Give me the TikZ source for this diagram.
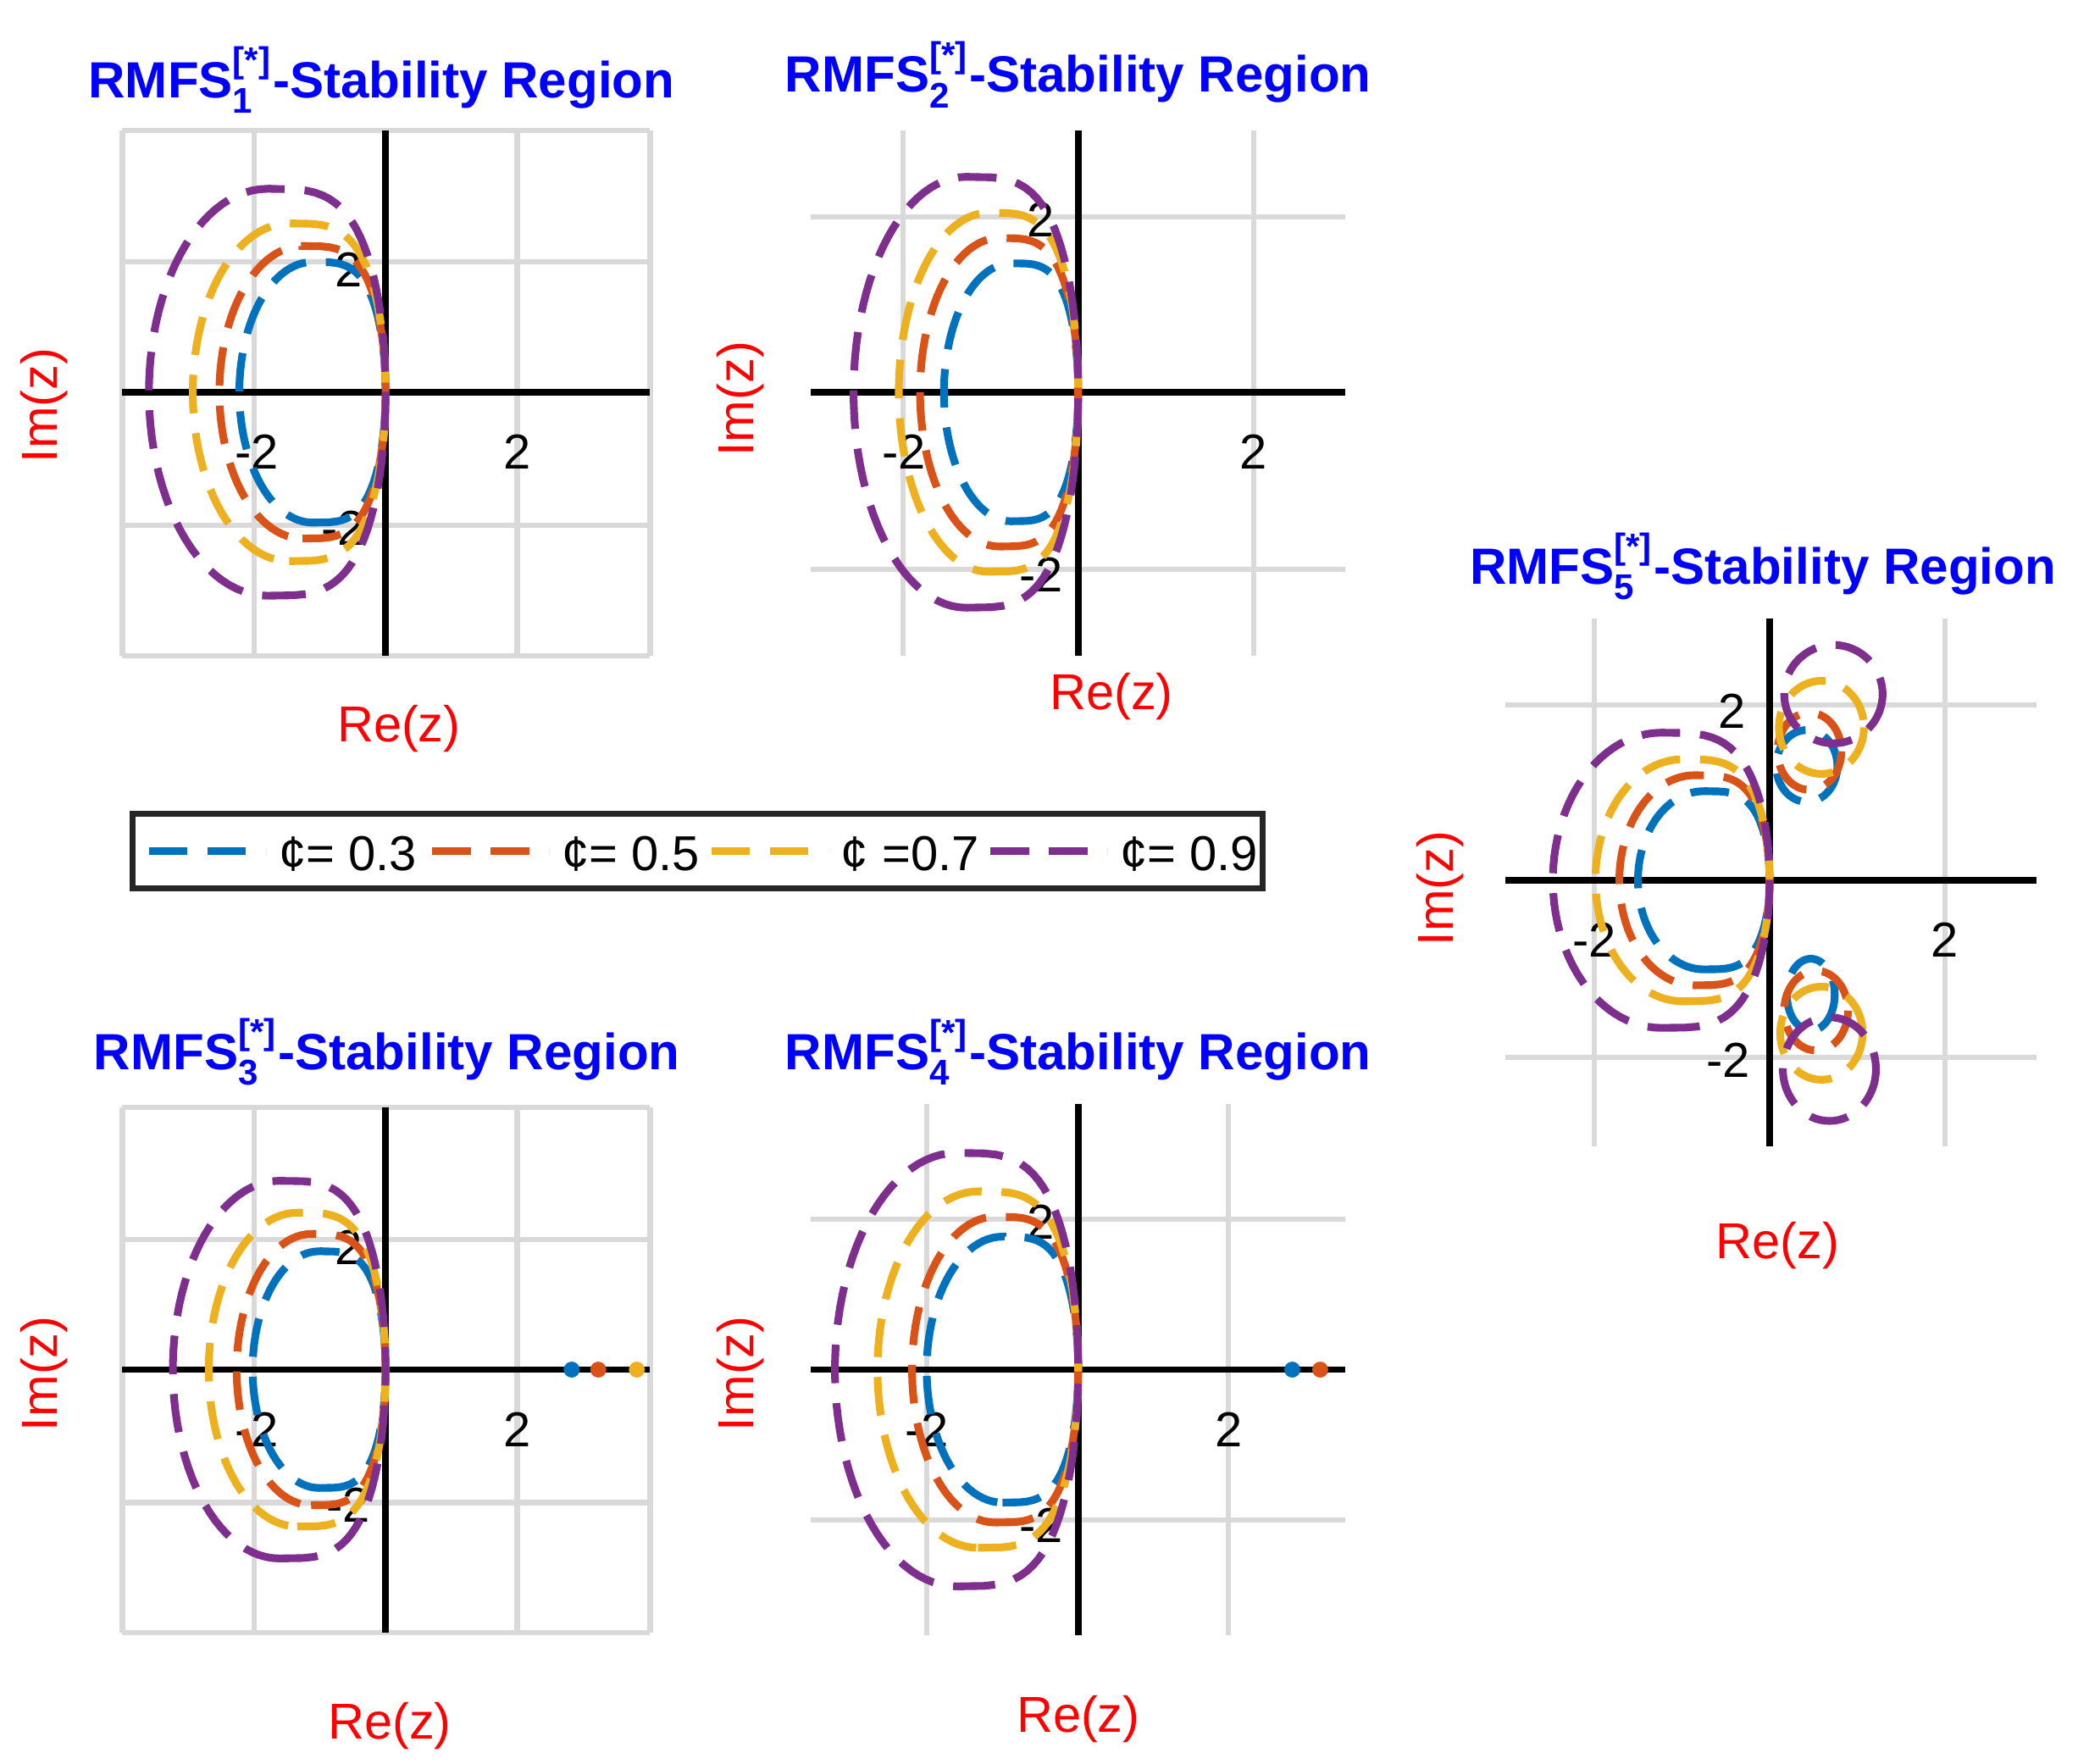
\documentclass[tikz,border=0pt]{standalone}
\usepackage{amsmath}
\usepackage{fontspec}
\setmainfont{Liberation Sans}
\definecolor{cb}{HTML}{0072BD}
\definecolor{co}{HTML}{D95319}
\definecolor{cy}{HTML}{EDB120}
\definecolor{cp}{HTML}{7E2F8E}
\definecolor{gr}{HTML}{D9D9D9}
\definecolor{tb}{HTML}{0000FF}
\newcommand\dcur[5]{\draw[#5,dsh] plot[domain=-90:90,samples=50] ({#1-#3/2+#3/2*pow(abs(cos(\x)),0.55)},{#2-#4*sin(\x)}) -- plot[domain=90:270,samples=50] ({#1-#3/2+#3/2*cos(\x)},{#2-#4*sin(\x)});}
\newcommand\rmfs[1]{RMFS$^{\text{[*]}}_{\text{#1}}$-Stability Region}
\begin{document}
\begin{tikzpicture}[x=0.1mm,y=-0.1mm,
  dsh/.style={line width=0.58mm,dash pattern=on 2.9mm off 1.5mm},
  grd/.style={gr,line width=0.4mm},
  ax/.style={black,line width=0.5mm},
  ttl/.style={text=tb,font=\fontsize{10.9}{12}\selectfont\bfseries},
  tck/.style={font=\fontsize{10.5}{12}\selectfont},
  lab/.style={text=red,font=\fontsize{10.8}{12}\selectfont},
  dot/.style={circle,inner sep=0pt,minimum size=1.2mm}]
\useasboundingbox (0,0) rectangle (1563,1326);
% ---------- Panel 1
\foreach \v in {92,191,389,489} \draw[grd] (\v,98) -- (\v,493);
\foreach \h in {98,197,395,493} \draw[grd] (92,\h) -- (489,\h);
\draw[ax] (92,295) -- (489,295); \draw[ax] (290,98) -- (290,493);
\node[tck] (t1a) at (193,340) {-2}; \node[tck] (t1b) at (389,340) {2};
\node[tck] (t1c) at (262,203) {2}; \node[tck] (t1d) at (258,397) {-2};
\dcur{290}{295}{110}{98}{cb} \dcur{290}{295}{125}{110}{co}
\dcur{290}{295}{145}{127}{cy} \dcur{290}{295}{178}{153}{cp}
\node[ttl] (T1) at (287,60) {\rmfs{1}};
\node[lab] (R1) at (300,548) {Re(z)};
\node[lab,rotate=90] (I1) at (33,305) {Im(z)};
% ---------- Panel 2
\foreach \v in {679,943} \draw[grd] (\v,98) -- (\v,493);
\foreach \h in {163,428} \draw[grd] (610,\h) -- (1012,\h);
\draw[ax] (610,295) -- (1012,295); \draw[ax] (811,98) -- (811,493);
\node[tck] (t2a) at (680,340) {-2}; \node[tck] (t2b) at (943,340) {2};
\node[tck] (t2c) at (783,165) {2}; \node[tck] (t2d) at (783,432) {-2};
\dcur{811}{295}{101}{97}{cb} \dcur{811}{295}{119}{116}{co}
\dcur{811}{295}{135}{135}{cy} \dcur{811}{295}{169}{162}{cp}
\node[ttl] (T2) at (811,56) {\rmfs{2}};
\node[lab] (R2) at (836,524) {Re(z)};
\node[lab,rotate=90] (I2) at (557,300) {Im(z)};
% ---------- Panel 3
\foreach \v in {92,191,389,489} \draw[grd] (\v,833) -- (\v,1228);
\foreach \h in {833,932,1130,1228} \draw[grd] (92,\h) -- (489,\h);
\draw[ax] (92,1030) -- (489,1030); \draw[ax] (290,833) -- (290,1228);
\node[tck] (t3a) at (193,1075) {-2}; \node[tck] (t3b) at (389,1075) {2};
\node[tck] (t3c) at (262,938) {2}; \node[tck] (t3d) at (262,1132) {-2};
\dcur{290}{1030}{100}{89}{cb} \dcur{290}{1030}{112}{102}{co}
\dcur{290}{1030}{133}{118}{cy} \dcur{290}{1030}{160}{142}{cp}
\node[dot,fill=cb] (d3a) at (430,1030) {};
\node[dot,fill=co] (d3b) at (450,1030) {};
\node[dot,fill=cy] (d3c) at (479,1030) {};
\node[ttl] (T3) at (291,791) {\rmfs{3}};
\node[lab] (R3) at (293,1298) {Re(z)};
\node[lab,rotate=90] (I3) at (33,1033) {Im(z)};
% ---------- Panel 4
\foreach \v in {697,924} \draw[grd] (\v,830) -- (\v,1230);
\foreach \h in {917,1143} \draw[grd] (610,\h) -- (1012,\h);
\draw[ax] (610,1030) -- (1012,1030); \draw[ax] (811,830) -- (811,1230);
\node[tck] (t4a) at (697,1075) {-2}; \node[tck] (t4b) at (924,1075) {2};
\node[tck] (t4c) at (783,919) {2}; \node[tck] (t4d) at (783,1147) {-2};
\dcur{811}{1030}{114}{100}{cb} \dcur{811}{1030}{125}{115}{co}
\dcur{811}{1030}{151}{134}{cy} \dcur{811}{1030}{183}{163}{cp}
\node[dot,fill=cb] (d4a) at (972,1030) {};
\node[dot,fill=co] (d4b) at (993,1030) {};
\node[ttl] (T4) at (811,791) {\rmfs{4}};
\node[lab] (R4) at (811,1293) {Re(z)};
\node[lab,rotate=90] (I4) at (557,1033) {Im(z)};
% ---------- Panel 5
\foreach \v in {1199,1463} \draw[grd] (\v,465) -- (\v,862);
\foreach \h in {530,795} \draw[grd] (1132,\h) -- (1532,\h);
\draw[ax] (1132,662) -- (1532,662); \draw[ax] (1331,465) -- (1331,862);
\node[tck] (t5a) at (1199,707) {-2}; \node[tck] (t5b) at (1463,707) {2};
\node[tck] (t5c) at (1303,535) {2}; \node[tck] (t5d) at (1300,797) {-2};
\dcur{1331}{662}{99}{67}{cb} \dcur{1331}{662}{113}{79}{co}
\dcur{1331}{662}{131}{91}{cy} \dcur{1331}{662}{163}{111}{cp}
\draw[cb,dsh] (1359,576) ellipse [x radius=23,y radius=27];
\draw[co,dsh] (1361,565) ellipse [x radius=24,y radius=29];
\draw[cy,dsh] (1370,547) ellipse [x radius=32,y radius=35];
\draw[cp,dsh] (1379,522) ellipse [x radius=37,y radius=37];
\draw[cb,dsh] (1362,748) ellipse [x radius=18,y radius=27];
\draw[co,dsh] (1366,760) ellipse [x radius=24,y radius=30];
\draw[cy,dsh] (1370,777) ellipse [x radius=31,y radius=35];
\draw[cp,dsh] (1376,804) ellipse [x radius=35,y radius=39];
\node[ttl] (T5) at (1326,426) {\rmfs{5}};
\node[lab] (R5) at (1337,937) {Re(z)};
\node[lab,rotate=90] (I5) at (1083,668) {Im(z)};
% ---------- Legend
\node[draw=black!85,line width=0.45mm,fill=white,minimum width=85mm,minimum height=5.6mm,inner sep=0pt] (leg) at (525,640) {};
\foreach \c/\xa/\t [count=\i] in {cb/112/{¢= 0.3},co/325/{¢= 0.5},cy/535/{¢ =0.7},cp/745/{¢= 0.9}}{
  \coordinate (la\i) at (\xa,640); \coordinate (lb\i) at (\xa+88,640);
  \draw[\c,dsh] (la\i) -- (lb\i);
  \node[tck,anchor=west,inner sep=0pt] (lt\i) at (\xa+97,642) {\t};
}
\end{tikzpicture}
\end{document}
